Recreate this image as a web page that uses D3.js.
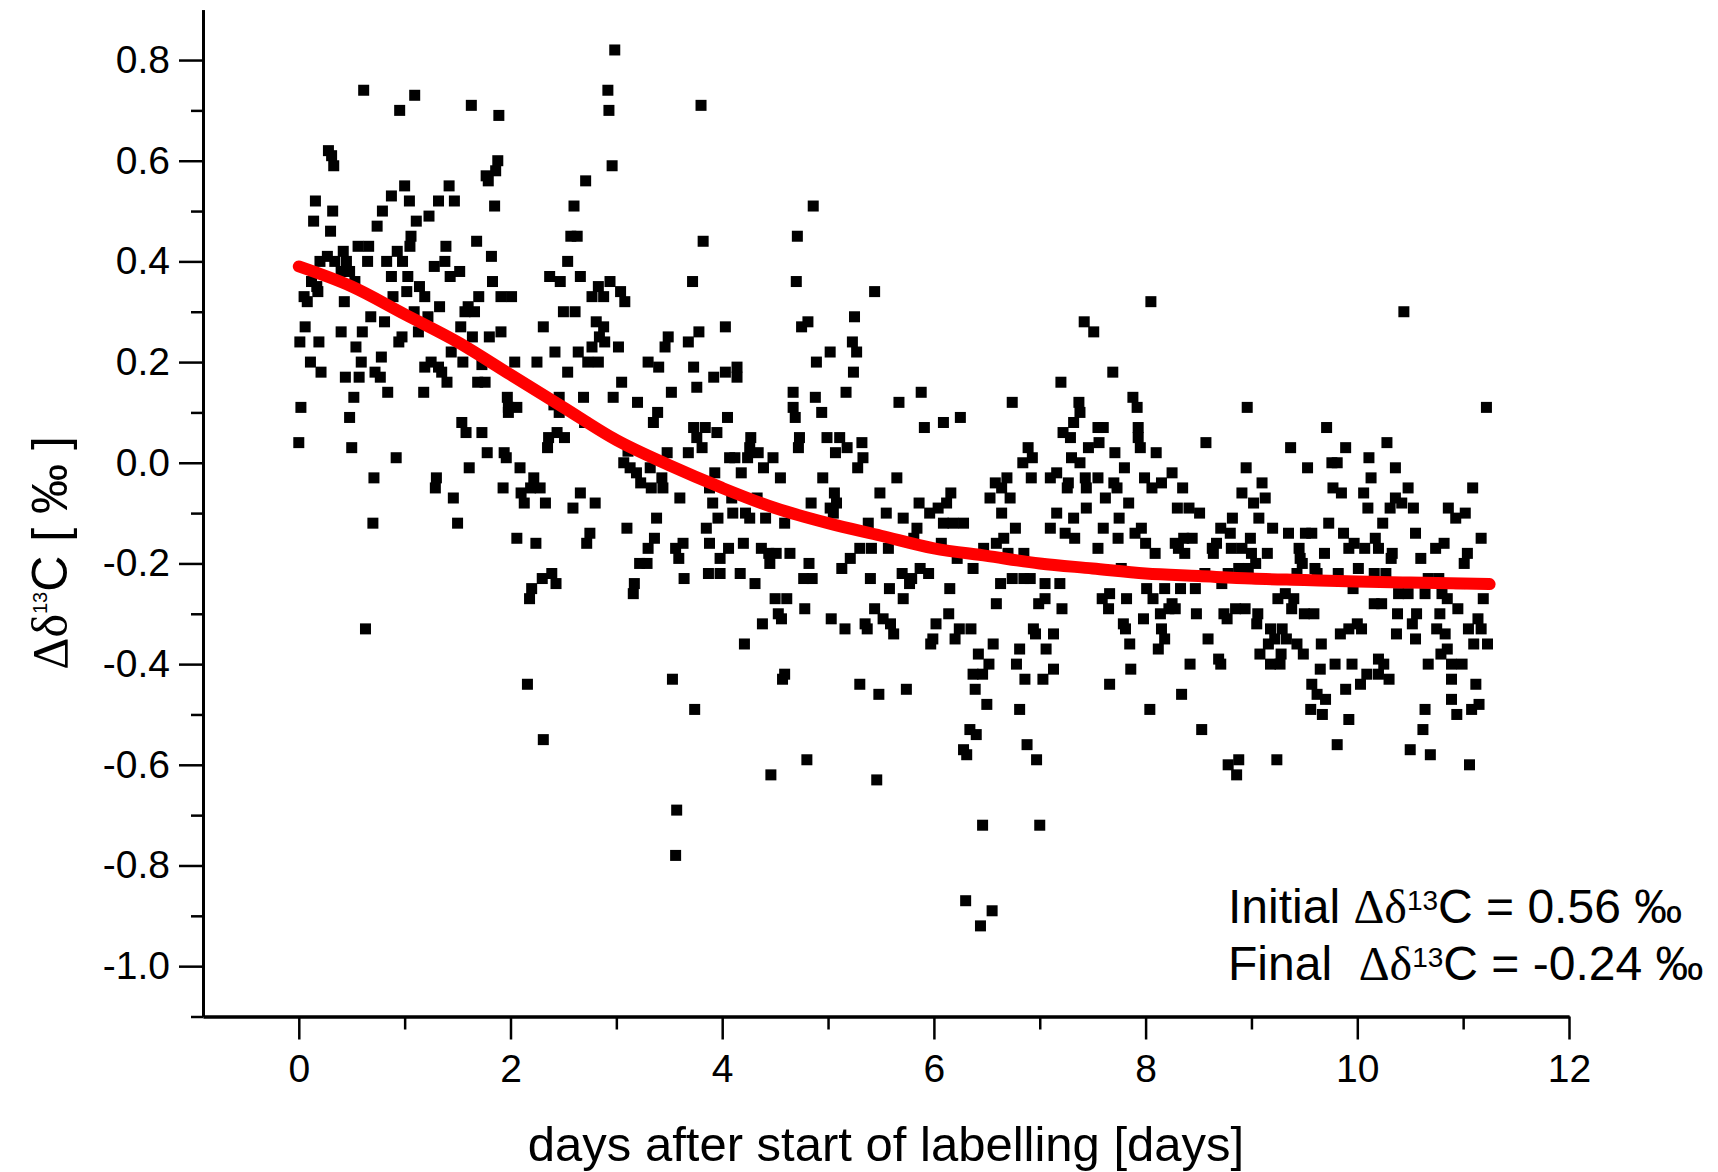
<!DOCTYPE html>
<html><head><meta charset="utf-8">
<script src="https://cdn.jsdelivr.net/npm/d3@7"></script>
<style>
html,body{margin:0;padding:0;background:#fff;}
svg{display:block;}
text{font-family:"Liberation Sans", Arial, sans-serif;}
</style></head><body>
<svg id="chart" width="1718" height="1172"></svg>
<script>
// ---------- axis ticks ----------
const xTickValues = [0, 2, 4, 6, 8, 10, 12];
const xTickLabels = ["0", "2", "4", "6", "8", "10", "12"];
const xMinorTicks = [1, 3, 5, 7, 9, 11];
const yTickValues = [-1.0, -0.8, -0.6, -0.4, -0.2, 0.0, 0.2, 0.4, 0.6, 0.8];
const yTickLabels = ["-1.0", "-0.8", "-0.6", "-0.4", "-0.2", "0.0", "0.2", "0.4", "0.6", "0.8"];
const yMinorTicks = [-1.1, -0.9, -0.7, -0.5, -0.3, -0.1, 0.1, 0.3, 0.5, 0.7];
const xDomain = [-0.905, 12];
const yDomain = [-1.1, 0.9];

// ---------- measurements [day, Δδ13C] ----------
const pointsEarlyHigh = [
[2.985,0.82],[0.613,0.74],[1.095,0.73],[0.953,0.70],[1.63,0.71],[1.89,0.69],[2.92,0.74],[2.93,0.70],[2.96,0.59],
[0.28,0.62],[0.31,0.61],[0.33,0.59],[1.88,0.60],[1.86,0.58],[1.77,0.57],[1.79,0.56],
[2.71,0.56],[1.0,0.55],[1.42,0.55],[0.875,0.53],[0.157,0.52],[1.045,0.52],[1.32,0.52],[1.47,0.52],[1.85,0.51],[2.6,0.51],
[0.32,0.50],[0.79,0.50],[1.23,0.49],[0.14,0.48],[1.11,0.48],[0.74,0.47],[0.30,0.46],[1.06,0.45],[1.05,0.43],[1.68,0.44],[2.57,0.45],[2.63,0.45],
[0.56,0.43],[0.66,0.43],[1.39,0.43],[0.93,0.42],[0.42,0.42],[0.27,0.41],[1.82,0.41],
[0.2,0.40],[0.34,0.40],[0.45,0.40],[0.65,0.40],[0.83,0.40],[0.98,0.40],[1.38,0.40],[1.28,0.39],[2.54,0.40],
[0.40,0.38],[0.48,0.38],[1.52,0.38],[1.43,0.37],[0.875,0.37],[1.03,0.37],[2.37,0.37],[2.47,0.36],[2.66,0.37],
[0.53,0.36],[1.83,0.36],[0.12,0.36],[0.17,0.35],[0.18,0.34],[1.14,0.35],[1.19,0.33],
[2.83,0.35],[2.94,0.36],[3.04,0.34],[3.08,0.32],[2.88,0.33],[2.77,0.33],
[0.05,0.33],[0.08,0.32],[0.89,0.33],[1.02,0.34],[1.70,0.33],[1.91,0.33],[2.01,0.33],[0.43,0.32],[1.33,0.31],
[1.6,0.31],[1.57,0.30],[1.66,0.30],[1.09,0.30],[1.22,0.29],[0.68,0.29],[0.81,0.28],[2.5,0.30],[2.61,0.30],[2.31,0.27],[2.81,0.28],[2.88,0.27],
[0.06,0.27],[0.40,0.26],[0.60,0.26],[1.13,0.26],[1.53,0.27],[1.91,0.26],[1.8,0.25],[1.64,0.25],[0.975,0.25],[0.945,0.24],
[3.49,0.25],[3.46,0.23],[3.68,0.24],[2.84,0.25],[2.89,0.24],[2.77,0.23],[3.02,0.23],[0.01,0.24],[0.19,0.24],[0.54,0.23],[2.42,0.22],[2.64,0.22],
[0.11,0.20],[0.59,0.20],[0.78,0.21],[1.25,0.20],[1.19,0.19],[1.32,0.19],[1.55,0.20],[1.44,0.22],[2.04,0.20],[2.25,0.20],[2.73,0.20],[2.83,0.20],[3.3,0.20],[3.4,0.19]
];
const pointsEarlyLow = [
[0.21,0.18],[0.44,0.17],[0.57,0.17],[0.72,0.18],[0.77,0.17],[1.35,0.18],[1.40,0.16],[1.73,0.195],[1.69,0.16],[1.76,0.16],
[0.84,0.14],[1.18,0.14],[0.52,0.13],[0.02,0.11],[0.48,0.09],[0.00,0.04],[0.50,0.03],[0.92,0.01],[0.71,-0.03],[1.30,-0.03],[1.29,-0.05],[1.46,-0.07],[0.70,-0.12],[1.50,-0.12],[0.63,-0.33],[2.16,-0.44],
[1.97,0.13],[1.98,0.11],[2.06,0.11],[1.98,0.10],[1.54,0.08],[1.58,0.06],[1.73,0.06],[1.78,0.02],[1.94,0.02],[1.96,0.01],[1.61,-0.01],[2.09,-0.01],[1.93,-0.05],
[2.22,-0.03],[2.19,-0.05],[2.28,-0.05],[2.10,-0.06],[2.13,-0.08],[2.33,-0.08],
[2.46,0.13],[2.41,0.115],[2.46,0.10],[2.54,0.18],[2.69,0.13],[2.97,0.13],[2.70,0.08],[3.05,0.16],[3.2,0.12],[3.39,0.10],[3.35,0.08],[3.52,0.14],
[2.36,0.05],[2.35,0.03],[2.44,0.06],[2.51,0.05],
[3.11,0.023],[3.07,0.0],[3.13,-0.01],[3.19,-0.02],[3.23,-0.04],[3.33,-0.05],[3.44,-0.05],[3.32,-0.01],[3.43,-0.03],[3.48,0.02],[3.68,0.02],
[3.6,-0.07],[2.66,-0.06],[2.80,-0.08],[2.59,-0.09],[2.75,-0.14],[2.72,-0.16],[3.10,-0.13],[3.38,-0.11],
[3.36,-0.15],[3.3,-0.17],[3.22,-0.2],[3.29,-0.2],[3.63,-0.16],[3.56,-0.17],[3.59,-0.19],[3.64,-0.23],[3.17,-0.24],[3.16,-0.26],
[2.06,-0.15],[2.24,-0.16],[2.39,-0.22],[2.30,-0.23],[2.43,-0.24],[2.2,-0.25],[2.18,-0.27],[3.53,-0.43],
[2.31,-0.55],[3.57,-0.69],[3.56,-0.78]
];
const pointsMiddle = [
[3.8,0.71],[4.86,0.51],[3.82,0.44],[4.71,0.45],[3.72,0.36],[4.70,0.36],[5.44,0.34],[5.25,0.29],[3.78,0.26],[4.03,0.27],[4.81,0.28],[4.75,0.27],[7.42,0.28],[7.51,0.26],
[5.23,0.24],[5.27,0.22],[5.02,0.22],[4.89,0.20],[3.73,0.19],[4.03,0.18],[4.14,0.19],[5.24,0.18],
[3.76,0.15],[3.92,0.17],[4.14,0.17],
[4.67,0.14],[4.88,0.13],[5.17,0.14],[4.67,0.11],[4.69,0.09],[4.94,0.10],[4.05,0.09],[5.67,0.12],[5.88,0.14],[5.91,0.07],[6.09,0.08],[6.25,0.09],[7.2,0.16],[6.74,0.12],
[7.37,0.12],[7.38,0.10],[7.32,0.08],[7.22,0.06],[7.29,0.05],
[3.73,0.07],[3.84,0.07],[3.95,0.06],[3.76,0.05],[3.81,0.03],
[4.27,0.05],[4.26,0.03],[4.34,0.02],[4.24,0.01],[4.07,0.01],[4.12,0.01],
[4.48,0.01],[4.39,-0.01],[4.55,-0.03],[4.73,0.05],[4.72,0.03],
[4.99,0.05],[5.11,0.05],[5.18,0.03],[5.07,0.02],[5.32,0.04],[5.33,0.01],[5.28,-0.01],[4.95,-0.03],[4.18,-0.02],[3.93,-0.02],
[3.88,-0.05],[3.91,-0.08],[3.96,-0.11],[3.85,-0.13],
[4.1,-0.10],[4.22,-0.10],[4.26,-0.11],[4.41,-0.11],[4.59,-0.12],[4.33,-0.07],[4.09,-0.07],
[5.06,-0.06],[5.08,-0.08],[5.02,-0.09],[5.05,-0.10],[4.84,-0.08],[5.49,-0.06],[5.55,-0.10],[5.71,-0.11],[5.38,-0.12],[5.65,-0.03],
[5.86,-0.08],[5.96,-0.10],[6.12,-0.08],[6.16,-0.06],[6.04,-0.09],[5.84,-0.13],[5.81,-0.15],[6.09,-0.12],[6.18,-0.12],[6.28,-0.12],[6.07,-0.16],
[3.88,-0.16],[4.06,-0.17],[4.2,-0.16],[3.98,-0.19],
[4.37,-0.17],[4.44,-0.18],[4.51,-0.18],[4.64,-0.18],[4.45,-0.20],[4.82,-0.20],
[3.87,-0.22],[3.98,-0.22],[4.17,-0.22],[4.31,-0.24],[4.77,-0.23],[4.85,-0.23],
[5.13,-0.21],[5.21,-0.19],[5.3,-0.17],[5.41,-0.17],[5.57,-0.17],[5.4,-0.23],
[5.7,-0.22],[5.79,-0.23],[5.87,-0.21],[5.95,-0.22],[5.77,-0.24],[5.58,-0.25],[5.71,-0.27],[6.15,-0.25],[6.37,-0.21],[6.22,-0.19],
[6.47,-0.17],[6.59,-0.16],[6.66,-0.15],[6.7,-0.18],[6.85,-0.18],
[6.53,-0.07],[6.64,-0.05],[6.69,-0.03],[6.72,-0.07],[6.58,-0.04],[6.64,-0.10],[6.77,-0.13],
[6.89,0.03],[6.93,0.01],[6.84,0.0],[6.92,-0.03],
[7.1,-0.03],[7.16,-0.02],[7.27,-0.04],[7.26,-0.05],[7.43,-0.03],[7.44,-0.05],[7.3,0.01],[7.38,0.0],[7.46,0.03],
[7.16,-0.10],[7.32,-0.11],[7.44,-0.09],[7.1,-0.13],[7.24,-0.14],[7.33,-0.15],
[6.63,-0.24],[6.74,-0.23],[6.85,-0.23],[6.91,-0.23],[7.05,-0.24],[7.19,-0.24],[6.59,-0.28],[6.99,-0.28],[7.05,-0.27],[7.21,-0.29],
[4.5,-0.27],[4.61,-0.27],[4.53,-0.30],[4.56,-0.31],[4.38,-0.32],[4.78,-0.29],[4.21,-0.36],[5.03,-0.31],[5.16,-0.33],
[5.44,-0.29],[5.52,-0.31],[5.59,-0.32],[5.62,-0.34],[5.35,-0.32],[5.37,-0.33],
[6.02,-0.32],[5.99,-0.35],[5.97,-0.36],[6.14,-0.30],[6.2,-0.35],[6.24,-0.33],[6.35,-0.33],
[6.42,-0.38],[6.52,-0.40],[6.46,-0.42],[6.37,-0.42],[6.56,-0.36],[6.39,-0.45],
[6.81,-0.37],[6.78,-0.40],[6.86,-0.43],[6.94,-0.33],[6.96,-0.34],[7.13,-0.34],[7.06,-0.37],[7.03,-0.43],[7.13,-0.41],
[4.59,-0.42],[4.57,-0.43],[5.3,-0.44],[5.48,-0.46],[5.74,-0.45],
[3.74,-0.49],[6.5,-0.48],[6.81,-0.49],[6.34,-0.53],[6.4,-0.54],[6.28,-0.57],[6.31,-0.58],[6.88,-0.56],[6.97,-0.59],[4.8,-0.59],[4.46,-0.62],[5.46,-0.63],
[6.46,-0.72],[7.0,-0.72],[6.30,-0.87],[6.55,-0.89],[6.44,-0.92]
];
const pointsLate = [
[8.05,0.32],[10.44,0.30],
[7.69,0.18],[7.88,0.13],[7.92,0.11],[8.96,0.11],[11.22,0.11],[9.71,0.07],[7.6,0.07],[7.55,0.07],[7.56,0.04],[7.93,0.07],[7.93,0.05],[7.95,0.03],[7.71,0.02],[8.1,0.02],[8.57,0.04],[9.37,0.03],[9.89,0.03],[10.28,0.04],
[7.8,-0.01],[8.95,-0.01],[9.53,-0.01],[9.76,0.0],[9.81,0.0],[10.11,0.01],[10.36,-0.01],
[7.55,-0.03],[7.7,-0.04],[7.73,-0.05],[7.99,-0.03],[8.06,-0.05],[8.15,-0.04],[8.25,-0.02],[8.35,-0.05],
[9.1,-0.04],[8.91,-0.06],[9.02,-0.08],[9.13,-0.07],[9.77,-0.05],[9.85,-0.06],[10.13,-0.03],[10.06,-0.06],[10.48,-0.05],[11.09,-0.05],
[7.62,-0.07],[7.84,-0.08],[8.3,-0.09],[8.41,-0.09],[8.51,-0.10],[10.36,-0.07],[10.31,-0.09],[10.42,-0.08],[10.53,-0.09],[10.1,-0.09],[10.86,-0.09],[10.93,-0.11],[11.02,-0.10],
[7.75,-0.11],[8.82,-0.11],[9.07,-0.11],[9.73,-0.12],[10.24,-0.12],
[7.6,-0.13],[7.96,-0.13],[7.9,-0.14],[8.71,-0.13],[8.8,-0.14],[9.2,-0.13],[9.35,-0.14],[9.51,-0.14],[9.57,-0.14],[9.87,-0.14],[10.55,-0.14],[11.17,-0.15],[7.74,-0.15],[8.99,-0.15],
[8.0,-0.16],[8.09,-0.18],[8.28,-0.16],[8.36,-0.15],[8.44,-0.15],[8.31,-0.17],[8.37,-0.18],[8.67,-0.16],[8.63,-0.17],[8.64,-0.18],
[8.81,-0.17],[8.91,-0.17],[9.0,-0.18],[9.04,-0.2],[8.97,-0.21],[8.88,-0.21],[9.15,-0.18],
[9.45,-0.17],[9.46,-0.19],[9.48,-0.2],[9.43,-0.22],[9.69,-0.18],
[9.97,-0.16],[9.92,-0.17],[10.07,-0.17],[10.2,-0.17],[10.17,-0.15],[10.33,-0.18],[10.32,-0.19],[10.6,-0.19],[10.74,-0.17],[10.82,-0.16],[11.04,-0.18],[11.01,-0.20],
[7.55,-0.17],[7.77,-0.21],[8.56,-0.22],[8.78,-0.22],[9.6,-0.21],[9.62,-0.22],[9.82,-0.22],[10.01,-0.21],[10.16,-0.22],[10.27,-0.22],[10.67,-0.23],[10.77,-0.23],[10.97,-0.24],
[8.01,-0.25],[8.07,-0.27],[8.18,-0.25],[8.33,-0.25],[8.47,-0.25],[8.72,-0.24],[9.32,-0.26],[9.25,-0.27],[9.4,-0.27],[9.38,-0.29],[9.96,-0.25],
[10.39,-0.26],[10.48,-0.26],[10.64,-0.26],[10.8,-0.26],[10.85,-0.27],[11.19,-0.27],
[7.59,-0.27],[7.66,-0.26],[7.65,-0.29],[7.82,-0.27],
[8.25,-0.28],[8.22,-0.29],[8.28,-0.29],[8.14,-0.30],[8.48,-0.30],
[8.74,-0.30],[8.77,-0.31],[8.85,-0.29],[8.94,-0.29],[9.06,-0.30],[9.05,-0.32],[9.5,-0.30],[9.59,-0.30],
[10.16,-0.28],[10.23,-0.28],[10.38,-0.30],[10.56,-0.30],[10.52,-0.32],[10.78,-0.30],[10.95,-0.29],[11.14,-0.31],[11.05,-0.33],[11.17,-0.33],
[7.98,-0.31],[7.79,-0.32],[7.81,-0.33],[8.15,-0.33],[8.18,-0.35],[8.12,-0.37],[8.59,-0.35],
[9.18,-0.33],[9.29,-0.33],[9.22,-0.35],[9.33,-0.35],[9.43,-0.36],[9.16,-0.36],[9.08,-0.38],[9.28,-0.38],[9.49,-0.38],[9.18,-0.40],[9.27,-0.40],
[9.66,-0.36],[9.84,-0.34],[9.92,-0.33],[10.0,-0.32],[10.04,-0.33],[10.37,-0.34],[10.55,-0.35],[10.75,-0.33],[10.83,-0.34],[10.85,-0.37],[10.79,-0.38],[10.67,-0.40],[11.1,-0.36],[11.23,-0.36],
[7.85,-0.36],[8.69,-0.39],[8.71,-0.40],[8.42,-0.40],[7.86,-0.41],[9.65,-0.41],[9.79,-0.40],[9.95,-0.40],
[10.2,-0.39],[10.25,-0.40],[10.3,-0.43],[10.2,-0.42],[10.09,-0.42],[10.03,-0.44],[10.89,-0.40],[10.99,-0.40],[10.89,-0.43],
[7.66,-0.44],[8.34,-0.46],[9.57,-0.44],[9.62,-0.46],[9.89,-0.45],[11.12,-0.44],
[8.04,-0.49],[8.53,-0.53],[8.78,-0.60],[8.88,-0.59],[8.86,-0.62],[9.24,-0.59],[9.56,-0.49],[9.67,-0.50],[9.7,-0.47],[9.92,-0.51],[9.81,-0.56],
[10.64,-0.49],[10.62,-0.53],[10.5,-0.57],[10.69,-0.58],[10.89,-0.47],[10.94,-0.50],[11.08,-0.49],[11.15,-0.48],[11.06,-0.60]
];

// ---------- fitted curve ----------
const fitDays   = [0, 0.5, 1, 1.5, 2, 2.5, 3, 3.5, 4, 4.5, 5, 5.5, 6, 6.5, 7, 7.5, 8, 8.5, 9, 9.5, 10, 10.5, 11, 11.25];
const fitValues = [0.39, 0.35, 0.295, 0.24, 0.175, 0.11, 0.045, -0.005, -0.05, -0.09, -0.12, -0.145, -0.17, -0.185, -0.20, -0.21, -0.22, -0.225, -0.23, -0.233, -0.236, -0.238, -0.24, -0.241];

// ---------- texts ----------
const xAxisTitle = "days after start of labelling [days]";
const annotationInitial = ["Initial ", "Δδ", "13", "C = 0.56 ‰"];
const annotationFinal = ["Final  ", "Δδ", "13", "C = -0.24 ‰"];
const yTitleParts = ["Δδ", "13", "C [ ‰ ]"];

// ---------- drawing ----------
const svg = d3.select("#chart");
svg.append("rect").attr("width", 1718).attr("height", 1172).attr("fill", "#fff");

const x = d3.scaleLinear().domain(xDomain).range([203, 1569]);
const y = d3.scaleLinear().domain(yDomain).range([1016.5, 9.7]);

const allPoints = [].concat(pointsEarlyHigh, pointsEarlyLow, pointsMiddle, pointsLate);
const ms = 11;
svg.append("g").selectAll("rect").data(allPoints).join("rect")
  .attr("x", d => x(d[0]) - ms / 2).attr("y", d => y(d[1]) - ms / 2)
  .attr("width", ms).attr("height", ms).attr("fill", "#000");

const fitData = fitDays.map((d, i) => [d, fitValues[i]]);
svg.append("path").datum(fitData)
  .attr("d", d3.line().x(d => x(d[0])).y(d => y(d[1])).curve(d3.curveMonotoneX))
  .attr("fill", "none").attr("stroke", "#ff0000").attr("stroke-width", 12)
  .attr("stroke-linecap", "round").attr("stroke-linejoin", "round");

// axes
const fontSize = 39;
const gx = svg.append("g").attr("transform", `translate(0,${y(yDomain[0])})`)
  .call(d3.axisBottom(x).tickValues(xTickValues).tickFormat((d, i) => xTickLabels[i]).tickSize(23).tickSizeOuter(0).tickPadding(15));
const gxm = svg.append("g").attr("transform", `translate(0,${y(yDomain[0])})`)
  .call(d3.axisBottom(x).tickValues(xMinorTicks).tickFormat("").tickSize(13).tickSizeOuter(0));
const gy = svg.append("g").attr("transform", `translate(${x(xDomain[0])},0)`)
  .call(d3.axisLeft(y).tickValues(yTickValues).tickFormat((d, i) => yTickLabels[i]).tickSize(24).tickSizeOuter(0).tickPadding(9));
const gym = svg.append("g").attr("transform", `translate(${x(xDomain[0])},0)`)
  .call(d3.axisLeft(y).tickValues(yMinorTicks).tickFormat("").tickSize(12).tickSizeOuter(0));
[gx, gxm, gy, gym].forEach(g => {
  g.select(".domain").attr("stroke", "#000").attr("stroke-width", 3);
  g.selectAll(".tick line").attr("stroke", "#000").attr("stroke-width", 2.5);
  g.selectAll(".tick text").attr("fill", "#000").attr("font-size", fontSize)
    .attr("font-family", "Liberation Sans, Arial, sans-serif");
});

// x title
svg.append("text").attr("x", (x(xDomain[0]) + x(xDomain[1])) / 2).attr("y", 1161)
  .attr("text-anchor", "middle").attr("font-size", 49).attr("fill", "#000").text(xAxisTitle);

// y title
const yt = svg.append("text").attr("transform", "translate(67,553) rotate(-90)")
  .attr("text-anchor", "middle").attr("font-size", 50).attr("fill", "#000");
yt.append("tspan").attr("font-family", "Liberation Serif, Times New Roman, serif").text(yTitleParts[0]);
yt.append("tspan").attr("font-size", 20).attr("dy", -20).text(yTitleParts[1]);
yt.append("tspan").attr("dy", 20).text(yTitleParts[2]);

// annotation
function annot(parts, yy) {
  const t = svg.append("text").attr("x", 1228).attr("y", yy).attr("font-size", 48)
    .attr("fill", "#000").style("white-space", "pre");
  t.append("tspan").text(parts[0]);
  t.append("tspan").attr("font-family", "Liberation Serif, Times New Roman, serif").text(parts[1]);
  t.append("tspan").attr("font-size", 28).attr("dy", -13).text(parts[2]);
  t.append("tspan").attr("dy", 13).text(parts[3]);
}
annot(annotationInitial, 923);
annot(annotationFinal, 980);
</script>
</body></html>
